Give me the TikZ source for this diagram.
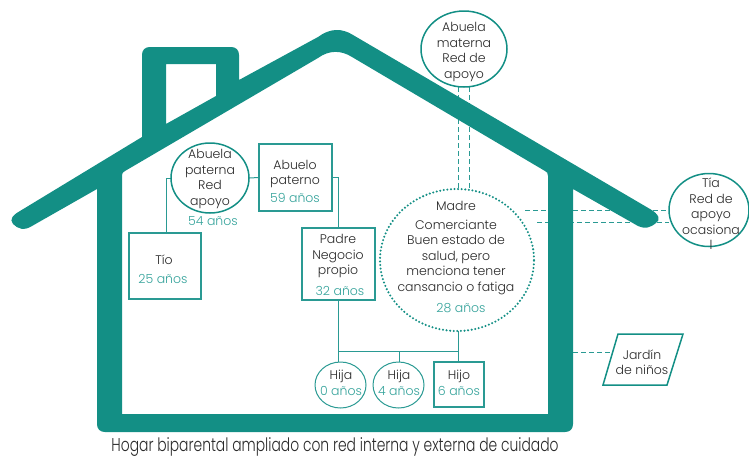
\documentclass[tikz,border=0pt]{standalone}
\usepackage{fontspec}
\setmainfont{Poppins Light}
\newfontfamily\capfont[FakeStretch=0.75]{Poppins Light}
\usetikzlibrary{shapes.geometric,calc,backgrounds}
\definecolor{houseteal}{HTML}{138F85}
\definecolor{lineteal}{HTML}{2A9A93}
\definecolor{agetxt}{HTML}{35A39B}
\definecolor{inktxt}{HTML}{2A2A2A}
\newcommand{\age}[1]{\textcolor{agetxt}{#1}}
\tikzset{
  x=1pt,y=-1pt,
  every node/.style={font=\fontsize{12.5}{15.5}\selectfont,text=inktxt,inner sep=0pt,outer sep=0pt},
  lbl/.style={align=center},
  ovalthick/.style={ellipse,draw=houseteal,line width=1.5pt,fill=white},
  ovalthin/.style={ellipse,draw=lineteal,line width=1pt,fill=white},
  dotoval/.style={ellipse,draw=houseteal,line width=2.3pt,dash pattern=on 0pt off 3.6pt,line cap=round,fill=white},
  boxn/.style={rectangle,draw=lineteal,line width=1.1pt,fill=white},
  tie/.style={draw=lineteal,line width=1pt},
  dashlink/.style={draw=lineteal,line width=0.9pt,dash pattern=on 5pt off 3pt},
}
\begin{document}
\begin{tikzpicture}
\path[use as bounding box] (0,0) rectangle (749,458);

% house
\fill[houseteal,even odd rule]
  (142,137) -- (142,55) .. controls (142,50) and (145,47) .. (150,47)
  -- (231,47) .. controls (236,47) and (239,50) .. (239,55) -- (239,80)
  -- (318,37) .. controls (330,28) and (342,28) .. (353,35)
  -- (650,209) .. controls (659,214) and (661,220) .. (656,223)
  .. controls (650,228) and (645,229) .. (638,226)
  -- (573,189) -- (573,424) .. controls (573,429) and (570,432) .. (565,432)
  -- (105,432) .. controls (100,432) and (97,429) .. (97,424)
  -- (97,189) -- (32,226) .. controls (24,231) and (18,229) .. (13,224)
  .. controls (9,219) and (13,215) .. (20,211) -- cycle
  (122,176) .. controls (122,174) and (122,173) .. (125,171)
  -- (318,58) .. controls (329,50) and (341,50) .. (352,57)
  -- (545,171) .. controls (547,172) and (548,173) .. (548,176)
  -- (548,414) -- (122,414) -- cycle
  (166,64) -- (216,64) -- (216,96) -- (166,124) -- cycle;

% free ends of the dashed links
\coordinate (wallA) at (525,210);
\coordinate (wallB) at (537,222);
\coordinate (wallC) at (573,352);
\coordinate (jardL) at (611,352);

% nodes
\node[ovalthick,minimum width=86pt,minimum height=76pt] (abmat) at (464,49) {};
\node[dotoval,minimum width=154pt,minimum height=142pt] (madre) at (457,260) {};
\node[ovalthick,minimum width=80pt,minimum height=73pt] (tia) at (709,210) {};
\node[ovalthick,minimum width=78pt,minimum height=70pt] (abpat) at (210,178) {};
\node[boxn,minimum width=73pt,minimum height=67pt] (abuelo) at (295.5,177.5) {};
\node[boxn,minimum width=72pt,minimum height=66pt] (tio) at (165,266) {};
\node[boxn,minimum width=73pt,minimum height=72pt] (padre) at (338.5,264) {};
\node[ovalthin,minimum width=51pt,minimum height=46pt] (hijaA) at (340.5,385) {};
\node[ovalthin,minimum width=51pt,minimum height=46pt] (hijaB) at (398.5,385) {};
\node[boxn,minimum width=50pt,minimum height=45pt] (hijo) at (459,384.5) {};
\draw[houseteal,line width=1.5pt,line join=miter] (618,334) -- (683,334) -- (667,385) -- (603,385) -- cycle;

% connectors, behind everything
\begin{scope}[on background layer]
\draw[dashlink] ($(abmat.south)+(-6,0)$) -- ($(madre.north)+(1,0)$);
\draw[dashlink] ($(abmat.south)+(5,0)$) -- ($(madre.north)+(12,1)$);
\draw[dashlink] (wallA) -- (wallA -| tia.west);
\draw[dashlink] (wallB) -- (wallB -| tia.west);
\draw[dashlink] (wallC) -- (jardL);
\draw[tie] (abpat.west) -- ++(-5,0) -- (tio.north -| 166,0);
\draw[tie] (abpat.east) -- (abuelo.west);
\draw[tie] (abuelo.east) -- (338,177.5) -- (padre.north -| 338,0);
\draw[tie] (padre.south) -- (hijaA.north -| padre.south);
\draw[tie] (338,351) -- (458,351);
\draw[tie] ($(madre.south)+(1,0)$) -- (hijo.north -| 458,0);
\draw[tie] (399,351) -- (hijaB.north -| 399,0);
\end{scope}

% texts
\node[lbl] (tAbMat) at (464,52) {Abuela\\materna\\Red de\\apoyo};
\node[lbl] (tAbPat) at (210,179) {Abuela\\paterna\\Red\\apoyo};
\node[lbl] (tAge54) at (213,221) {\age{54 años}};
\node[lbl] (tAbuelo) at (295,174) {Abuelo\\paterno};
\node[lbl] (tAge59) at (295,198) {\age{59 años}};
\node[lbl] (tTio) at (164,260) {Tío};
\node[lbl] (tAge25) at (163,279) {\age{25 años}};
\node[lbl] (tPadre) at (338,256) {Padre\\Negocio\\propio};
\node[lbl] (tAge32) at (340,291) {\age{32 años}};
\node[lbl] (tMadre) at (456,206) {Madre};
\node[lbl] (tMadreB) at (456,257) {Comerciante\\Buen estado de\\salud, pero\\menciona tener\\cansancio o fatiga};
\node[lbl] (tAge28) at (461,308) {\age{28 años}};
\node[lbl] (tTia) at (711,214) {Tía\\Red de\\apoyo\\ocasiona\\l};
\node[lbl] (tJard) at (642,362) {Jardín\\de niños};
\node[lbl] (tHijaA) at (341,383) {Hija\\\age{0 años}};
\node[lbl] (tHijaB) at (399,383) {Hija\\\age{4 años}};
\node[lbl] (tHijo) at (459,383) {Hijo\\\age{6 años}};
\node[font={\capfont\fontsize{18.5}{20}\selectfont}] (tCap) at (335,447) {Hogar biparental ampliado con red interna y externa de cuidado};
\end{tikzpicture}
\end{document}
